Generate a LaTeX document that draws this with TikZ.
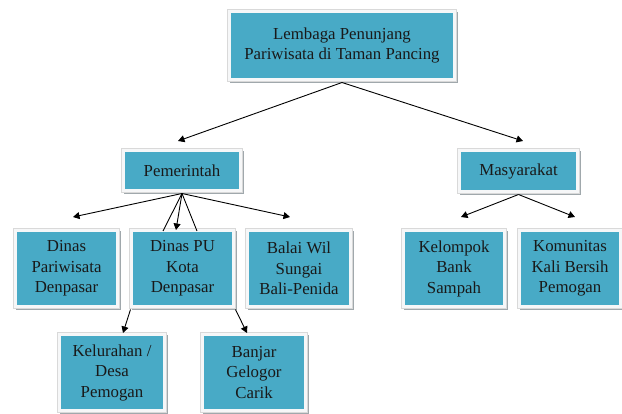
\documentclass[tikz,border=0pt]{standalone}
\usepackage{fontspec}
\setmainfont{Liberation Serif}
\usetikzlibrary{arrows.meta,shadows}
\definecolor{boxfill}{RGB}{72,170,198}
\definecolor{boxrim}{RGB}{246,247,248}
\definecolor{shadowc}{RGB}{160,168,172}
\begin{document}
\begin{tikzpicture}[x=1pt,y=-1pt,
  box/.style={rectangle, fill=boxfill, draw=boxrim, line width=3pt,
    align=center, inner sep=0pt, outer sep=3pt, text=black!90,
    font=\fontsize{16.8}{20.5}\selectfont,
    drop shadow={shadow xshift=2pt, shadow yshift=-2pt, fill=shadowc, draw=shadowc, line width=3pt, opacity=1},
    preaction={draw=gray!30, line width=4.4pt}},
  conn/.style={line width=0.9pt, black},
  arr/.style={conn, -{Triangle[length=6.5pt,width=7pt]}}]
\useasboundingbox (0,0) rectangle (622,414);
\node[box, minimum width=225pt, minimum height=68pt] (top) at (342,45.5) {Lembaga Penunjang\\Pariwisata di Taman Pancing};
\node[box, minimum width=117pt, minimum height=40pt] (pem) at (182,170.5) {Pemerintah};
\node[box, minimum width=118pt, minimum height=41pt] (mas) at (518.5,171) {Masyarakat};
\node[box, minimum width=102pt, minimum height=76pt] (dpar) at (66.5,268.5) {Dinas\\Pariwisata\\Denpasar};
\node[box, minimum width=102pt, minimum height=76pt] (dpu) at (182.5,268.5) {Dinas PU\\Kota\\Denpasar};
\node[box, minimum width=103pt, minimum height=76pt] (balai) at (299,268.5) {Balai Wil\\Sungai\\Bali-Penida};
\node[box, minimum width=101pt, minimum height=76pt] (kbs) at (454,268.5) {Kelompok\\Bank\\Sampah};
\node[box, minimum width=101pt, minimum height=76pt] (kom) at (570,268.5) {Komunitas\\Kali Bersih\\Pemogan};
\node[box, minimum width=105pt, minimum height=76pt] (kelur) at (112,372.5) {Kelurahan /\\Desa\\Pemogan};
\node[box, minimum width=103pt, minimum height=76pt] (banjar) at (254,372.5) {Banjar\\Gelogor\\Carik};
\coordinate (tpem) at (178,141);
\coordinate (tmas) at (523,141);
\coordinate (tdpar) at (73,217);
\coordinate (tdpu) at (176,230);
\coordinate (ldpu) at (163,231);
\coordinate (rdpu) at (197,231);
\coordinate (tbalai) at (290,217);
\coordinate (tkbs) at (461,217);
\coordinate (tkom) at (575,217);
\coordinate (tkelur) at (123,333);
\coordinate (tbanjar) at (247,333);
\draw[arr] (top.south) -- (tpem);
\draw[arr] (top.south) -- (tmas);
\draw[arr] (pem.south) -- (tdpar);
\draw[arr] (pem.south) -- (tdpu);
\draw[conn] (pem.south) -- (ldpu);
\draw[conn] (pem.south) -- (rdpu);
\draw[arr] (pem.south) -- (tbalai);
\draw[arr] (mas.south) -- (tkbs);
\draw[arr] (mas.south) -- (tkom);
\draw[arr] ([xshift=2pt]dpu.south west) -- (tkelur);
\draw[arr] ([xshift=-1pt]dpu.south east) -- (tbanjar);
\end{tikzpicture}
\end{document}
